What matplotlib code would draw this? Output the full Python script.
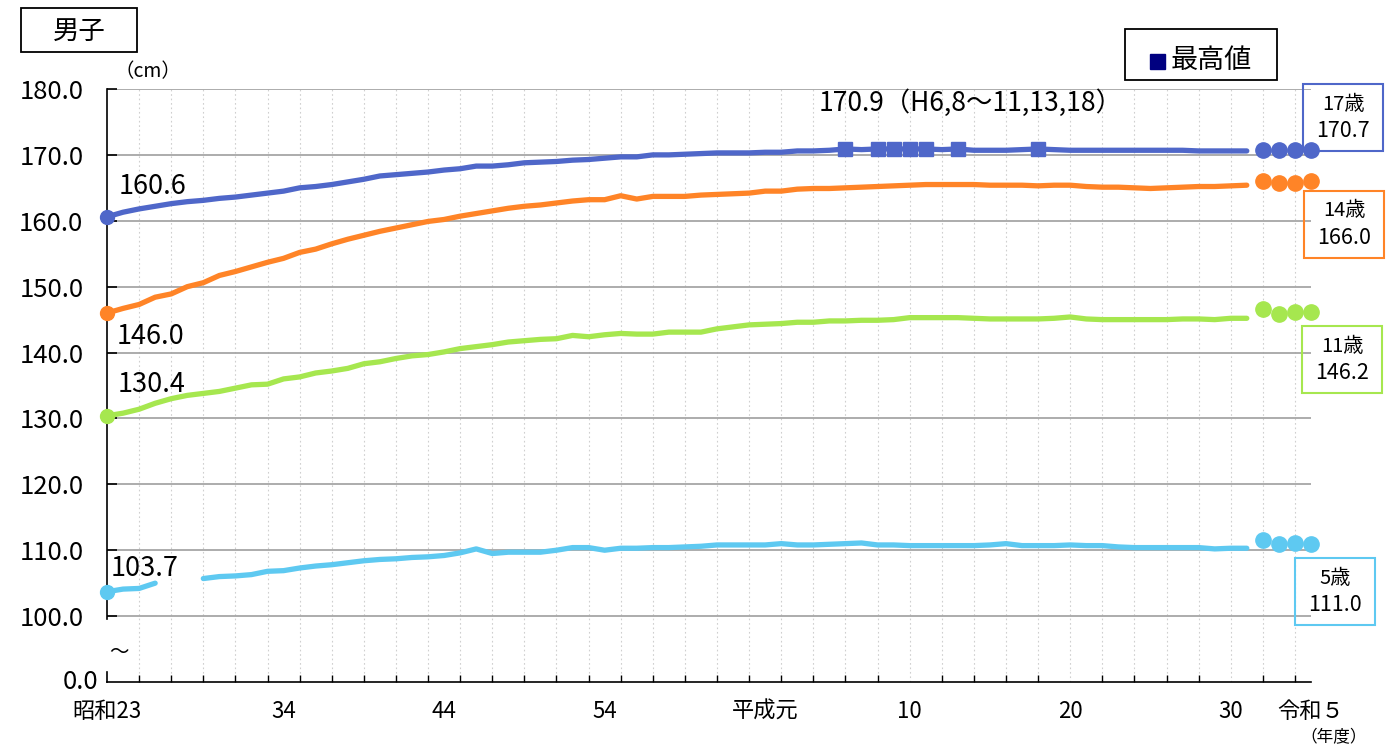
import numpy as np
import matplotlib
matplotlib.use("Agg")
import matplotlib.pyplot as plt
from matplotlib.patches import Rectangle
from matplotlib import transforms

plt.rcParams['font.family'] = ['Noto Sans CJK JP', 'DejaVu Sans']

# years 昭和23 (1948) .. 令和元 (2019) drawn as lines, 令和2..5 as dots
years = np.arange(1948, 2020)
recent_years = [2020, 2021, 2022, 2023]

h17 = [160.6, 161.3, 161.8, 162.2, 162.6, 162.9, 163.1, 163.4, 163.6, 163.9,
       164.2, 164.5, 165.0, 165.2, 165.5, 165.9, 166.3, 166.8, 167.0, 167.2,
       167.4, 167.7, 167.9, 168.3, 168.3, 168.5, 168.8, 168.9, 169.0, 169.2,
       169.3, 169.5, 169.7, 169.7, 170.0, 170.0, 170.1, 170.2, 170.3, 170.3,
       170.3, 170.4, 170.4, 170.6, 170.6, 170.7, 170.9, 170.8, 170.9, 170.9,
       170.9, 170.9, 170.8, 170.9, 170.7, 170.7, 170.7, 170.8, 170.9, 170.8,
       170.7, 170.7, 170.7, 170.7, 170.7, 170.7, 170.7, 170.7, 170.6, 170.6,
       170.6, 170.6]
h14 = [146.0, 146.7, 147.3, 148.4, 148.9, 150.0, 150.6, 151.7, 152.3, 153.0,
       153.7, 154.3, 155.2, 155.7, 156.5, 157.2, 157.8, 158.4, 158.9, 159.4,
       159.9, 160.2, 160.7, 161.1, 161.5, 161.9, 162.2, 162.4, 162.7, 163.0,
       163.2, 163.2, 163.8, 163.3, 163.7, 163.7, 163.7, 163.9, 164.0, 164.1,
       164.2, 164.5, 164.5, 164.8, 164.9, 164.9, 165.0, 165.1, 165.2, 165.3,
       165.4, 165.5, 165.5, 165.5, 165.5, 165.4, 165.4, 165.4, 165.3, 165.4,
       165.4, 165.2, 165.1, 165.1, 165.0, 164.9, 165.0, 165.1, 165.2, 165.2,
       165.3, 165.4]
h11 = [130.4, 130.8, 131.4, 132.3, 133.0, 133.5, 133.8, 134.1, 134.6, 135.1,
       135.2, 136.0, 136.3, 136.9, 137.2, 137.6, 138.3, 138.6, 139.1, 139.5,
       139.7, 140.1, 140.6, 140.9, 141.2, 141.6, 141.8, 142.0, 142.1, 142.6,
       142.4, 142.7, 142.9, 142.8, 142.8, 143.1, 143.1, 143.1, 143.6, 143.9,
       144.2, 144.3, 144.4, 144.6, 144.6, 144.8, 144.8, 144.9, 144.9, 145.0,
       145.3, 145.3, 145.3, 145.3, 145.2, 145.1, 145.1, 145.1, 145.1, 145.2,
       145.4, 145.1, 145.0, 145.0, 145.0, 145.0, 145.0, 145.1, 145.1, 145.0,
       145.2, 145.2]
h5 = [103.7, 104.1, 104.2, 105.0, np.nan, np.nan, 105.7, 106.0, 106.1, 106.3,
      106.8, 106.9, 107.3, 107.6, 107.8, 108.1, 108.4, 108.6, 108.7, 108.9,
      109.0, 109.2, 109.6, 110.2, 109.5, 109.7, 109.7, 109.7, 110.0, 110.4,
      110.4, 110.0, 110.3, 110.3, 110.4, 110.4, 110.5, 110.6, 110.8, 110.8,
      110.8, 110.8, 111.0, 110.8, 110.8, 110.9, 111.0, 111.1, 110.8, 110.8,
      110.7, 110.7, 110.7, 110.7, 110.7, 110.8, 111.0, 110.7, 110.7, 110.7,
      110.8, 110.7, 110.7, 110.5, 110.4, 110.4, 110.4, 110.4, 110.4, 110.2,
      110.3, 110.3]

r17 = [170.7, 170.8, 170.7, 170.7]
r14 = [166.1, 165.7, 165.7, 166.0]
r11 = [146.6, 145.9, 146.1, 146.2]
r5 = [111.6, 111.0, 111.1, 111.0]

max_years = [1994, 1996, 1997, 1998, 1999, 2001, 2006]

ages = ['17歳', '14歳', '11歳', '5歳']
colors = ['#4F67C9', '#FF8427', '#A6E74F', '#5EC9F1']

tick_years = [1948, 1959, 1969, 1979, 1989, 1998, 2008, 2018, 2023]
tick_labels = ['昭和23', '34', '44', '54', '平成元', '10', '20', '30', '令和５']

W, H = 1395, 753
fig = plt.figure(figsize=(W / 100, H / 100), dpi=100)
ax = fig.add_axes([107 / W, 1 - 682 / H, (1311 - 107) / W, (682 - 89) / H])

def fx(x):
    return x / W

def fy(y):
    return 1 - y / H

ax.set_xlim(1948, 2023)
ax.set_ylim(90, 180)

# grid
for v in range(100, 181, 10):
    ax.axhline(v, color='#A6A6A6', lw=1.3, zorder=1)
for yr in range(1950, 2023, 2):
    ax.axvline(yr, color='#CFCFCF', lw=0.8, ls=(0, (1.5, 2.5)), zorder=0)

for s in ['top', 'right', 'left']:
    ax.spines[s].set_visible(False)
ax.spines['bottom'].set_color('black')
ax.spines['bottom'].set_linewidth(1.2)
# broken y axis
bt = transforms.blended_transform_factory(ax.transAxes, ax.transData)
ax.plot([0, 0], [99.5, 180], color='black', lw=1.2, transform=bt, clip_on=False)
ax.plot([0, 0], [90, 91.5], color='black', lw=1.2, transform=bt, clip_on=False)
ax.text(0.010, 94.5, '～', transform=bt, fontsize=14, ha='center', va='center')

ax.set_yticks(range(100, 181, 10))
ax.set_yticklabels([f'{v:.1f}' for v in range(100, 181, 10)], fontsize=18.5)
ax.tick_params(axis='y', direction='in', length=7, width=1.2, pad=17)
ax.text(-0.007, 90, '0.0', transform=bt, fontsize=18.5, ha='right', va='center')

ax.set_xticks(range(1948, 2023, 2), minor=True)
ax.tick_params(axis='x', which='minor', direction='in', length=5, width=1.0)
ax.set_xticks(tick_years)
ax.set_xticklabels(tick_labels, fontsize=16)
ax.tick_params(axis='x', which='major', length=0, pad=13)

series = [h17, h14, h11, h5]
recents = [r17, r14, r11, r5]
for vals, rec, c in zip(series, recents, colors):
    ax.plot(years, vals, color=c, lw=3.8, solid_capstyle='round',
            solid_joinstyle='round', zorder=3)
    ax.plot(years[0], vals[0], 'o', color=c, ms=10, zorder=4, clip_on=False)
    ax.plot(recent_years, rec, 'o', color=c, ms=11, ls='none', zorder=4,
            clip_on=False)

ax.plot(max_years, [h17[y - 1948] for y in max_years], 's', color=colors[0],
        ms=9.5, ls='none', zorder=5)

# start values
start_pos = [(119, 187), (117, 336), (118, 385), (111, 568)]
for vals, (px, py) in zip(series, start_pos):
    fig.text(fx(px), fy(py), f'{vals[0]:.1f}', fontsize=19.5, ha='left', va='center')

fig.text(fx(819), fy(103), f'{max(h17):.1f}（H6,8～11,13,18）', fontsize=19,
         ha='left', va='center')

# right value boxes
box_pos = [(1303, 84), (1304, 191), (1302, 326), (1295, 558)]
for age, rec, c, (bx, by) in zip(ages, recents, colors, box_pos):
    fig.add_artist(Rectangle((fx(bx), fy(by + 67)), 80 / W, 67 / H,
                             transform=fig.transFigure, fill=False, ec=c, lw=1.5))
    fig.text(fx(bx + 40), fy(by + 20), age, fontsize=14.5, ha='center', va='center')
    fig.text(fx(bx + 40), fy(by + 47), f'{rec[-1]:.1f}', fontsize=15.5,
             ha='center', va='center')

# title box
fig.add_artist(Rectangle((fx(21), fy(52)), 116 / W, 44 / H,
                         transform=fig.transFigure, fill=False, ec='black', lw=1.3))
fig.text(fx(79), fy(31), '男子', fontsize=19, ha='center', va='center')
fig.text(fx(148), fy(72), '（cm）', fontsize=14, ha='center', va='center')

# legend box
fig.add_artist(Rectangle((fx(1125), fy(80)), 152 / W, 51 / H,
                         transform=fig.transFigure, fill=False, ec='black', lw=1.3))
fig.add_artist(Rectangle((fx(1150), fy(69)), 15 / W, 15 / H,
                         transform=fig.transFigure, color='#000080'))
fig.text(fx(1171), fy(61), '最高値', fontsize=19.5, ha='left', va='center')

fig.text(fx(1334), fy(738), '（年度）', fontsize=12, ha='center', va='center')

fig.savefig('out.png', dpi=100)
